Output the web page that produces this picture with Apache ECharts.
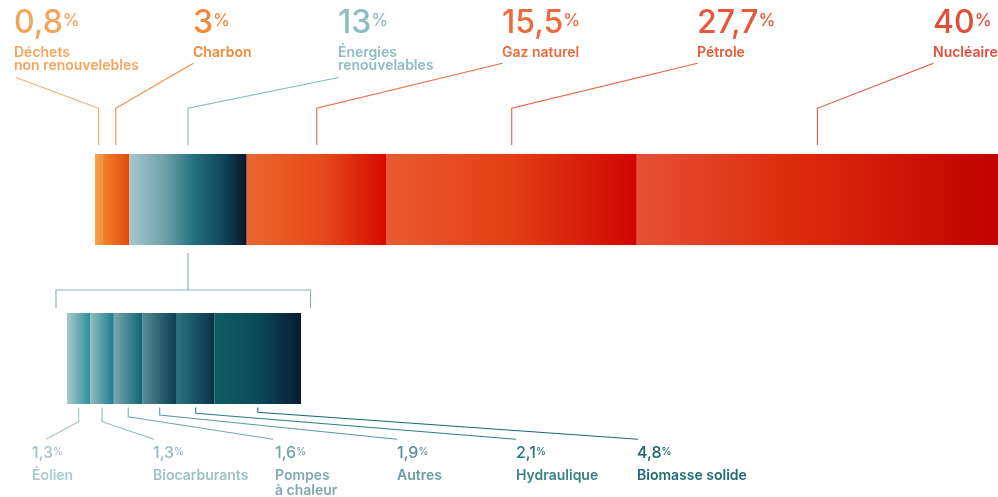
<!DOCTYPE html>
<html>
<head>
<meta charset="utf-8">
<script src="https://cdn.jsdelivr.net/npm/echarts@6/dist/echarts.min.js"></script>
<style>
html,body{margin:0;padding:0;background:#fff;}
#chart{width:998px;height:497px;}
</style>
</head>
<body>
<div id="chart"></div>
<script>
// ---- data ----
const topNames = ['Déchets\nnon renouvelebles', 'Charbon', 'Énergies\nrenouvelables', 'Gaz naturel', 'Pétrole', 'Nucléaire'];
const topValues = [0.8, 3, 13, 15.5, 27.7, 40];
const topLabels = ['0,8', '3', '13', '15,5', '27,7', '40'];
const subNames = ['Éolien', 'Biocarburants', 'Pompes\nà chaleur', 'Autres', 'Hydraulique', 'Biomasse solide'];
const subValues = [1.3, 1.3, 1.6, 1.9, 2.1, 4.8];
const subLabels = ['1,3', '1,3', '1,6', '1,9', '2,1', '4,8'];
const parentIndex = 2; // Énergies renouvelables is detailed below

// ---- styles / layout ----
const FONT = 'Inter, "Noto Sans", sans-serif';
const topText = ['#f3a55c', '#ef8a3a', '#8fbcc2', '#ec6a3e', '#e6583a', '#e34e3a'];
const topLine = ['#f5aa66', '#f08a44', '#8ab6bd', '#ec6d44', '#e8603f', '#e3553f'];
const topGrad = [
  [[0, '#f5a64e'], [1, '#f0903c']],
  [[0, '#f3842a'], [1, '#e04a0c']],
  [[0, '#a7c7ca'], [0.3, '#6fa2aa'], [0.55, '#23707e'], [0.8, '#0e4658'], [1, '#08182a']],
  [[0, '#e9662f'], [0.55, '#e6491a'], [1, '#d40a00']],
  [[0, '#e95b33'], [0.5, '#e33e14'], [1, '#cf0600']],
  [[0, '#e65036'], [0.45, '#dc2a0c'], [1, '#c00200']]
];
const subText = ['#a9cacf', '#9cc2c7', '#7eaab2', '#6a9ca6', '#3a808b', '#1f6b75'];
const subNum = ['#a4c6cb', '#96bdc3', '#74a3ab', '#5a909a', '#2c737e', '#19636d'];
const subLine = ['#a3c5c9', '#8fbac0', '#7aaab1', '#5d98a1', '#2f7d88', '#1b6a74'];
const subGrad = [
  [[0, '#aac9cc'], [1, '#2a8e98']],
  [[0, '#93babf'], [1, '#1a7f8c']],
  [[0, '#7ca6ad'], [1, '#0e6472']],
  [[0, '#548c95'], [1, '#0b3c52']],
  [[0, '#2a757e'], [1, '#0a3048']],
  [[0, '#0f5d65'], [0.5, '#0c4a58'], [1, '#081c34']]
];
const topLabelX = [14, 193, 338, 502, 697, 933];
const subLabelX = [32, 153, 275, 397, 516, 637];
const subLineEndX = [46, 154, 273, 397, 516, 638];
const subKinkY = [421.7, 421.7, 416.7, 415, 413.3, 412.3];

const TOP = {left: 95, top: 154, width: 903, height: 91};
const SUB = {left: 67, top: 313, width: 234, height: 91};

function grad(stops) {
  return new echarts.graphic.LinearGradient(0, 0, 1, 0, stops.map(s => ({offset: s[0], color: s[1]})));
}

const chart = echarts.init(document.getElementById('chart'), null, {renderer: 'canvas'});

const series = [];
topValues.forEach((v, i) => series.push({
  type: 'bar', stack: 'top', xAxisIndex: 0, yAxisIndex: 0, name: topNames[i],
  data: [v], barWidth: '100%', silent: true, itemStyle: {color: grad(topGrad[i])}
}));
subValues.forEach((v, i) => series.push({
  type: 'bar', stack: 'sub', xAxisIndex: 1, yAxisIndex: 1, name: subNames[i],
  data: [v], barWidth: '100%', silent: true, itemStyle: {color: grad(subGrad[i])}
}));

chart.setOption({
  animation: false,
  grid: [
    {left: TOP.left, top: TOP.top, width: TOP.width, height: TOP.height},
    {left: SUB.left, top: SUB.top, width: SUB.width, height: SUB.height}
  ],
  xAxis: [
    {type: 'value', gridIndex: 0, min: 0, max: topValues.reduce((a, b) => a + b, 0), show: false},
    {type: 'value', gridIndex: 1, min: 0, max: subValues.reduce((a, b) => a + b, 0), show: false}
  ],
  yAxis: [
    {type: 'category', gridIndex: 0, data: ['total'], show: false},
    {type: 'category', gridIndex: 1, data: ['renouvelables'], show: false}
  ],
  series: series
});

// ---- annotations (positions from the library's scales) ----
const graphics = [];
function line(pts, color, w) {
  graphics.push({type: 'polyline', silent: true, shape: {points: pts},
    style: {stroke: color, lineWidth: w || 1.1, fill: null}});
}
function mids(values) {
  const out = []; let acc = 0;
  values.forEach(v => { out.push(acc + v / 2); acc += v; });
  return out;
}
const topMid = mids(topValues);
topMid.forEach((m, i) => {
  const px = chart.convertToPixel({xAxisIndex: 0}, m);
  const twoLine = topNames[i].indexOf('\n') >= 0;
  const endY = twoLine ? 77.5 : 63.3;
  const endX = topLabelX[i] + (i === 0 ? 2 : 0.5);
  line([[endX, endY], [px, 108.3], [px, 145]], topLine[i]);
  graphics.push({type: 'text', x: topLabelX[i], y: 5, silent: true, style: {
    text: '{n|' + topLabels[i] + '}{p|%}', fill: topText[i], verticalAlign: 'top',
    rich: {
      n: {fontFamily: FONT, fontSize: 32, fontWeight: 500, lineHeight: 36, fill: topText[i]},
      p: {fontFamily: FONT, fontSize: 17, fontWeight: 500, lineHeight: 17, fill: topText[i], verticalAlign: 'top', padding: [7, 0, 0, 0]}
    }
  }});
  graphics.push({type: 'text', x: topLabelX[i], y: 46, silent: true, style: {
    text: topNames[i], fill: topText[i], fontFamily: FONT, fontSize: 14, fontWeight: 600,
    lineHeight: 13.5, verticalAlign: 'top'
  }});
});

// bracket from parent segment to detail bar
const pMid = chart.convertToPixel({xAxisIndex: 0}, topMid[parentIndex]);
const sL = chart.convertToPixel({xAxisIndex: 1}, 0);
const sR = chart.convertToPixel({xAxisIndex: 1}, subValues.reduce((a, b) => a + b, 0));
line([[pMid, 253], [pMid, 290]], '#8ab6bd', 1.2);
line([[sL - 11, 308], [sL - 11, 290], [sR + 9.5, 290], [sR + 9.5, 308]], '#8ab6bd', 1.2);

const subMid = mids(subValues);
subMid.forEach((m, i) => {
  const px = chart.convertToPixel({xAxisIndex: 1}, m);
  line([[px, 407.5], [px, subKinkY[i]], [subLineEndX[i], 439.3]], subLine[i]);
  graphics.push({type: 'text', x: subLabelX[i], y: 443, silent: true, style: {
    text: '{n|' + subLabels[i] + '}{p|%}', fill: subNum[i], verticalAlign: 'top',
    rich: {
      n: {fontFamily: FONT, fontSize: 16, fontWeight: 500, lineHeight: 20, fill: subNum[i]},
      p: {fontFamily: FONT, fontSize: 10, fontWeight: 500, lineHeight: 10, fill: subNum[i], verticalAlign: 'top', padding: [4, 0, 0, 0]}
    }
  }});
  graphics.push({type: 'text', x: subLabelX[i], y: 468, silent: true, style: {
    text: subNames[i], fill: subText[i], fontFamily: FONT, fontSize: 14, fontWeight: 600,
    lineHeight: 15.5, verticalAlign: 'top'
  }});
});

chart.setOption({graphic: graphics});
</script>
</body>
</html>
